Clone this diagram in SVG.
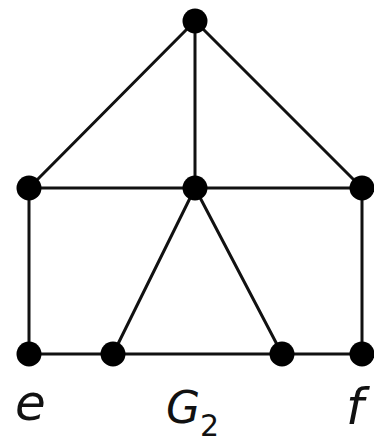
<svg xmlns="http://www.w3.org/2000/svg" width="374" height="445" viewBox="0 0 374 445">
<style>
.e{stroke:#111;stroke-width:3;stroke-linecap:round}
.n{fill:#000}
.lbl{font-family:"DejaVu Sans","Liberation Sans",sans-serif;font-style:italic;fill:#111}
</style>
<rect width="374" height="445" fill="#fff"/>
<g id="edges">
<line class="e" x1="195" y1="21" x2="29" y2="188"/>
<line class="e" x1="195" y1="21" x2="195" y2="188"/>
<line class="e" x1="195" y1="21" x2="362" y2="188"/>
<line class="e" x1="29" y1="188" x2="362" y2="188"/>
<line class="e" x1="29" y1="188" x2="29" y2="354"/>
<line class="e" x1="362" y1="188" x2="362" y2="354"/>
<line class="e" x1="195" y1="188" x2="113" y2="354"/>
<line class="e" x1="195" y1="188" x2="282" y2="354"/>
<line class="e" x1="29" y1="354" x2="362" y2="354"/>
</g>
<g id="top"><circle class="n" cx="195" cy="21" r="12.5"/></g>
<g id="midL"><circle class="n" cx="29" cy="188" r="12.5"/></g>
<g id="midC"><circle class="n" cx="195" cy="188" r="12.5"/></g>
<g id="midR"><circle class="n" cx="362" cy="188" r="12.5"/></g>
<g id="e"><circle class="n" cx="29" cy="354" r="12.5"/></g>
<g id="b2"><circle class="n" cx="113" cy="354" r="12.5"/></g>
<g id="b3"><circle class="n" cx="282" cy="354" r="12.5"/></g>
<g id="f"><circle class="n" cx="362" cy="354" r="12.5"/></g>
<g id="labels">
<text class="lbl" x="15" y="420" font-size="50">e</text>
<text class="lbl" x="166" y="423" font-size="44">G<tspan font-size="30" font-style="normal" dy="13">2</tspan></text>
<text class="lbl" x="346" y="424" font-size="50">f</text>
</g>
</svg>
